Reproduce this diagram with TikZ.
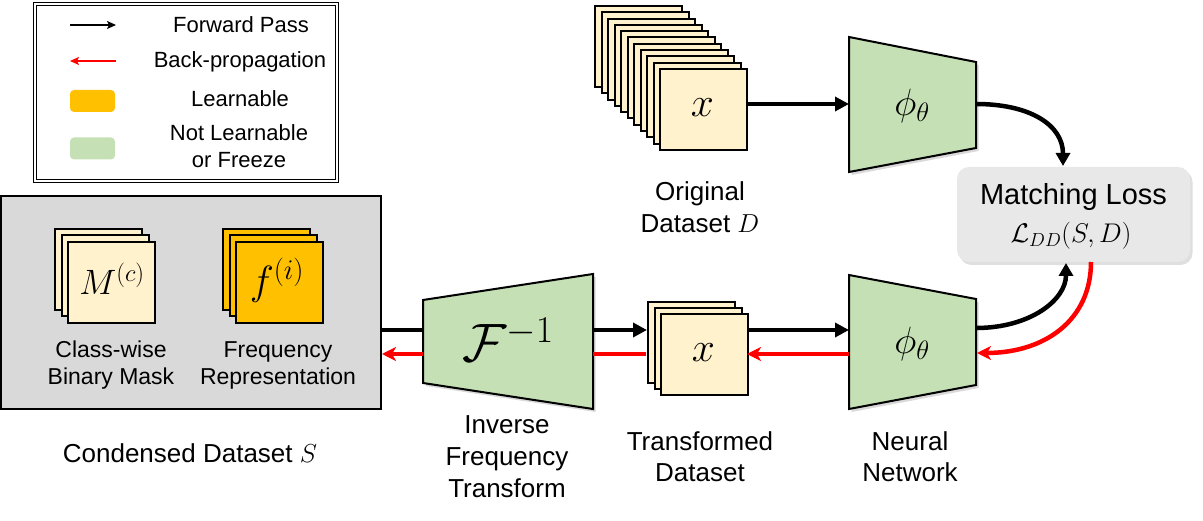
\RequirePackage{fix-cm}
\documentclass[tikz,border=0pt]{standalone}
\usepackage{fontspec}
\setmainfont{Liberation Sans}
\usetikzlibrary{arrows.meta,shadows,calc}
\definecolor{cream}{HTML}{FFF2CC}
\definecolor{gold}{HTML}{FFC000}
\definecolor{sage}{HTML}{C5E0B4}
\definecolor{boxgray}{HTML}{D9D9D9}
\definecolor{lossgray}{HTML}{E8E8E8}
\definecolor{bpred}{HTML}{FF0000}
\tikzset{
  sq/.style={draw=black,line width=2pt,minimum width=87pt,minimum height=81pt,inner sep=0pt,anchor=north west,fill=cream},
  trap/.style={draw=black,line width=2pt,fill=sage,line join=miter,drop shadow={opacity=0.3,shadow xshift=2.5pt,shadow yshift=-3pt}},
  fwd/.style={line width=4.5pt,-{Triangle[length=14pt,width=14pt]}},
  fwdline/.style={line width=4.5pt},
  bwd/.style={line width=4.5pt,draw=bpred,-{Stealth[length=14pt,width=14pt,inset=4pt]}},
  bwdline/.style={line width=4.5pt,draw=bpred},
  lbl/.style={align=center,inner sep=0pt},
}
\begin{document}
\begin{tikzpicture}[x=1pt,y=-1pt]
\useasboundingbox (0,0) rectangle (1203,521);

% ---------- legend ----------
\draw[line width=1.2pt,double,double distance=1.6pt] (35,4) rectangle (337,181);
\coordinate (lfa) at (70,25); \coordinate (lfb) at (116,25);
\draw[line width=1.6pt,-{Stealth[length=9pt,width=8pt,inset=2pt]}] (lfa) -- (lfb);
\coordinate (lba) at (116,61); \coordinate (lbb) at (70,61);
\draw[line width=1.6pt,draw=bpred,-{Stealth[length=9pt,width=8pt,inset=2pt]}] (lba) -- (lbb);
\node[fill=gold,rounded corners=4pt,minimum width=45pt,minimum height=22pt,inner sep=0pt] (lgold) at (92.5,101) {};
\node[fill=sage,rounded corners=4pt,minimum width=45pt,minimum height=22pt,inner sep=0pt] (lsage) at (92.5,148.5) {};
\begin{scope}[every node/.style={lbl,font=\fontsize{22}{27}\selectfont}]
\node (tf) at (241,25) {Forward Pass};
\node (tb) at (240,62) {Back-propagation};
\node (tl) at (240,99) {Learnable};
\node (tn) at (239,146) {Not Learnable\\or Freeze};
\end{scope}

% ---------- original dataset stack ----------
\foreach \k in {10,...,1}{
  \node[sq] (o\k) at ({659-6.5*\k},{68-6.3*\k}) {};
}
\node[sq] (o0) at (659,68) {};
\node[font=\fontsize{36}{36}\selectfont,scale=1.15] (ox) at (702.5,108) {$x$};
\node[lbl,font=\fontsize{26}{32}\selectfont] (otext) at (700,207) {Original\\Dataset $D$};

% ---------- top network ----------
\draw[trap] (849,37) -- (976,62) -- (976,148) -- (849,172) -- cycle;
\node[font=\fontsize{33}{33}\selectfont,scale=1.15] (phitop) at (912,106) {$\phi_\theta$};
\coordinate (ta) at (747,104); \coordinate (tb2) at (849,104);
\draw[fwd] (ta) -- (tb2);

% ---------- matching loss ----------
\node[fill=lossgray,rounded corners=12pt,minimum width=233pt,minimum height=95pt,inner sep=0pt,
      drop shadow={opacity=0.25,shadow xshift=2.5pt,shadow yshift=-3pt}] (loss) at (1073.5,214.5) {};
\node[font=\fontsize{29}{29}\selectfont] (losst) at (1073.5,197) {Matching Loss};
\node[font=\fontsize{27}{27}\selectfont] (lossm) at (1071,236) {$\mathcal{L}_{DD}(S,D)$};

\coordinate (c1a) at (976,104); \coordinate (c1b) at (1063,166);
\draw[line width=4.5pt,-{Triangle[length=13pt,width=14pt]}] (c1a) .. controls (1030,104) and (1063,125) .. (c1b);

% ---------- condensed dataset ----------
\node[draw=black,line width=2pt,fill=boxgray,minimum width=380pt,minimum height=213pt,inner sep=0pt] (cds) at (191,302.5) {};
\foreach \k in {2,1}{
  \node[sq] (m\k) at ({67-6.5*\k},{241-6.5*\k}) {};
  \node[sq,fill=gold] (f\k) at ({235-6.5*\k},{241-6.5*\k}) {};
}
\node[sq] (m0) at (67,241) {};
\node[sq,fill=gold] (f0) at (235,241) {};
\node[font=\fontsize{32}{32}\selectfont,scale=1.1] (mt) at (112,279) {$M^{(c)}$};
\node[font=\fontsize{34}{34}\selectfont,scale=1.2] (ft) at (277,280) {$f^{(i)}$};
\node[lbl,font=\fontsize{23}{27}\selectfont] (mlab) at (111,365.5) {Class-wise\\Binary Mask};
\node[lbl,font=\fontsize{23}{27}\selectfont] (flab) at (278,365.5) {Frequency\\Representation};
\node[font=\fontsize{26}{26}\selectfont] (cdst) at (190,453) {Condensed Dataset $S$};

% ---------- inverse transform ----------
\draw[trap] (423,300) -- (593,274) -- (593,409) -- (423,383) -- cycle;
\node[font=\fontsize{45}{45}\selectfont,scale=1.2] (finv) at (508,340) {$\mathcal{F}^{-1}$};
\node[lbl,font=\fontsize{26}{32}\selectfont] (ftext) at (507,457) {Inverse\\Frequency\\Transform};

% ---------- transformed dataset ----------
\foreach \k in {2,1}{
  \node[sq] (s\k) at ({660-6.5*\k},{313-6*\k}) {};
}
\node[sq] (s0) at (660,313) {};
\node[font=\fontsize{36}{36}\selectfont,scale=1.15] (sx) at (703.5,353) {$x$};
\node[lbl,font=\fontsize{26}{31}\selectfont] (stext) at (700,457) {Transformed\\Dataset};

% ---------- bottom network ----------
\draw[trap] (849,275) -- (976,299) -- (976,385) -- (849,409) -- cycle;
\node[font=\fontsize{33}{33}\selectfont,scale=1.15] (phibot) at (912,344) {$\phi_\theta$};
\node[lbl,font=\fontsize{26}{31}\selectfont] (ntext) at (910,457) {Neural\\Network};

% ---------- bottom connectors ----------
\coordinate (b1) at (382,330); \coordinate (b2) at (423,330);
\coordinate (b3) at (593,330); \coordinate (b4) at (647,330);
\coordinate (b5) at (747,330); \coordinate (b6) at (849,330);
\draw[fwdline] (b1) -- (b2);
\draw[fwd] (b3) -- (b4);
\draw[fwd] (b5) -- (b6);
\coordinate (r1) at (849,354); \coordinate (r2) at (747,354);
\coordinate (r3) at (646,354); \coordinate (r4) at (593,354);
\coordinate (r5) at (423,354); \coordinate (r6) at (382,354);
\draw[bwd] (r1) -- (r2);
\draw[bwdline] (r3) -- (r4);
\draw[bwd] (r5) -- (r6);

\coordinate (c2a) at (976,328); \coordinate (c2b) at (1066,263);
\draw[line width=4.5pt,-{Triangle[length=13pt,width=14pt]}] (c2a) .. controls (1030,328) and (1066,300) .. (c2b);
\coordinate (c3a) at (1091,262); \coordinate (c3b) at (977,353);
\draw[line width=4.5pt,draw=bpred,-{Stealth[length=14pt,width=14pt,inset=4pt]}] (c3a) .. controls (1091,320) and (1045,353) .. (c3b);
\end{tikzpicture}
\end{document}
